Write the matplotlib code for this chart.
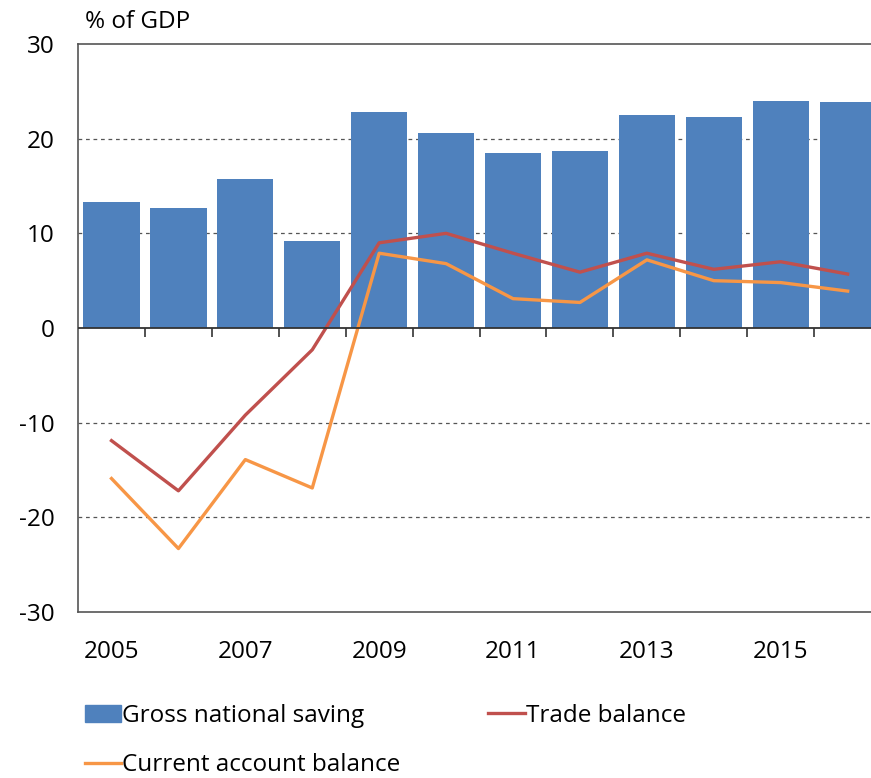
import numpy as np
import matplotlib.pyplot as plt
from matplotlib.patches import Patch
from matplotlib.lines import Line2D

plt.rcParams['font.family'] = ['Open Sans', 'DejaVu Sans']
plt.rcParams['axes.unicode_minus'] = False

years = [2005, 2006, 2007, 2008, 2009, 2010, 2011, 2012, 2013, 2014, 2015, 2016]
saving = [13.3, 12.7, 15.7, 9.2, 22.8, 20.6, 18.5, 18.7, 22.5, 22.3, 24.0, 23.9]
trade = [-11.9, -17.2, -9.2, -2.3, 9.0, 10.0, 7.9, 5.9, 7.9, 6.2, 7.0, 5.7]
current = [-15.9, -23.3, -13.9, -16.9, 7.9, 6.8, 3.1, 2.7, 7.2, 5.0, 4.8, 3.9]

blue = '#4F81BD'
red = '#C0504D'
orange = '#F79646'
fs = 17.5

fig = plt.figure(figsize=(8.71, 7.78), dpi=100)
# axes runs a little past the right edge of the figure
ax = fig.add_axes([0.0896, 0.2134, 0.922, 0.730])

x = np.arange(len(years))
ax.bar(x, saving, width=0.84, color=blue, zorder=2)
ax.plot(x, trade, color=red, lw=2.4, zorder=3)
ax.plot(x, current, color=orange, lw=2.4, zorder=3)

ax.set_xlim(-0.5, len(years) - 0.5)
ax.set_ylim(-30, 30)
ax.set_yticks([-30, -20, -10, 0, 10, 20, 30])
for v in [-20, -10, 10, 20]:
    ax.axhline(v, color='#555555', lw=0.9, ls=(0, (3, 3)), zorder=1)

# zero line with category separators hanging below it
ax.axhline(0, color='#333333', lw=1.3, zorder=4)
ax.vlines(x[:-1] + 0.5, -0.95, 0, color='#333333', lw=1.2, zorder=4)

ax.set_xticks(x[::2])
ax.set_xticklabels([str(y) for y in years[::2]])
ax.tick_params(axis='x', length=0, pad=20, labelsize=fs)
ax.tick_params(axis='y', length=0, pad=17, labelsize=fs)

for s in ['top', 'bottom', 'left', 'right']:
    ax.spines[s].set_color('#555555')
    ax.spines[s].set_linewidth(1.2)

fig.text(85 / 871, 1 - 22 / 778, '% of GDP', fontsize=fs, va='center', ha='left')

handles = [Patch(color=blue), Line2D([], [], color=orange, lw=2.4),
           Line2D([], [], color=red, lw=2.4)]
labels = ['Gross national saving', 'Current account balance', 'Trade balance']
fig.legend(handles, labels, ncol=2, loc='upper left',
           bbox_to_anchor=(75 / 871, 1 - 694 / 778), frameon=False,
           fontsize=fs, handlelength=1.5, handletextpad=0.05,
           columnspacing=3.6, labelspacing=1.05, borderaxespad=0)

fig.savefig('out.png', dpi=100)
